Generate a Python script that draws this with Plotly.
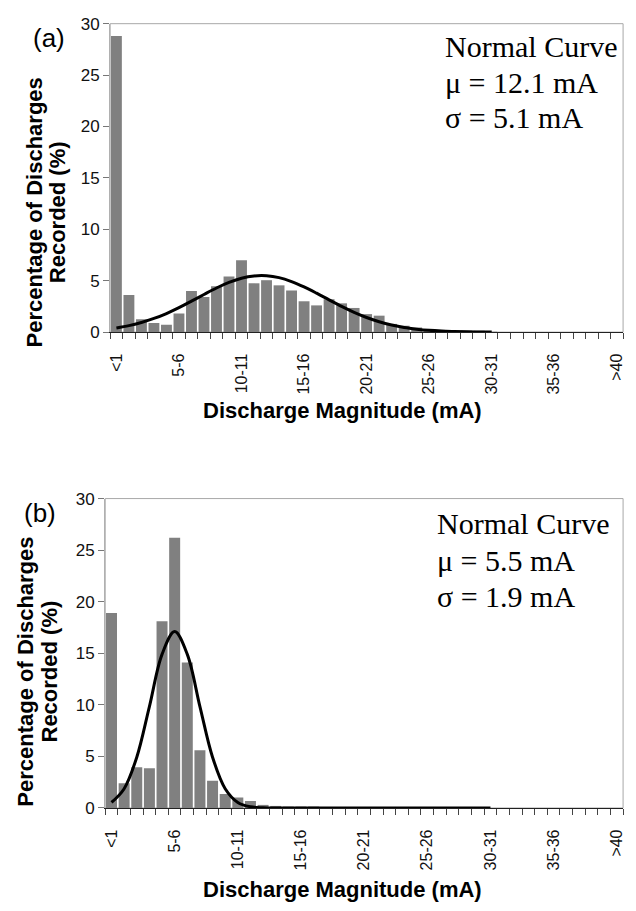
import plotly.graph_objects as go

# ---------------- data ----------------
categories = ["<1"] + [f"{i}-{i+1}" for i in range(1, 40)] + [">40"]
label_idx = [0, 5, 10, 15, 20, 25, 30, 35, 40]
tick_labels = [categories[i] for i in label_idx]

pct_a = [28.8, 3.6, 1.25, 0.88, 0.72, 1.82, 4.0, 3.42, 4.45, 5.4,
         7.0, 4.75, 5.05, 4.55, 4.05, 3.0, 2.6, 3.2, 2.8, 2.35,
         1.75, 1.6, 0.8, 0.62, 0.45, 0.3, 0.2, 0.12, 0.08, 0.05,
         0.03, 0, 0, 0, 0, 0, 0, 0, 0, 0, 0]

pct_b = [18.9, 2.4, 3.95, 3.85, 18.1, 26.2, 14.1, 5.6, 2.65, 1.35,
         1.02, 0.68, 0.3, 0.2, 0.13, 0.08, 0.05, 0, 0, 0,
         0, 0, 0, 0, 0, 0, 0, 0, 0, 0,
         0, 0, 0, 0, 0, 0, 0, 0, 0, 0, 0]

# normal-curve values read at category centres <1 .. 30-31
curve_a = [0.41, 0.63, 0.94, 1.33, 1.81, 2.38, 3.01, 3.66, 4.29, 4.83,
           5.24, 5.46, 5.48, 5.30, 4.92, 4.40, 3.79, 3.14, 2.50, 1.92,
           1.42, 1.01, 0.69, 0.45, 0.29, 0.17, 0.10, 0.06, 0.03, 0.02, 0.01]
curve_b = [0.54, 1.87, 4.92, 9.83, 14.89, 17.1, 14.89, 9.83, 4.92, 1.87,
           0.54, 0.12, 0.02, 0, 0, 0, 0, 0, 0, 0,
           0, 0, 0, 0, 0, 0, 0, 0, 0, 0, 0]

text_a = ["Normal Curve", "μ = 12.1 mA", "σ = 5.1 mA"]
text_b = ["Normal Curve", "μ = 5.5 mA", "σ = 1.9 mA"]

# ---------------- figure ----------------
W, H = 636, 911
def px(x):
    return x / W
def py(y):
    return 1 - y / H

BAR = "#808080"
pos = list(range(len(categories)))

fig = go.Figure()
fig.add_trace(go.Bar(x=pos, y=pct_a, marker=dict(color=BAR, line=dict(width=0)),
                     xaxis="x", yaxis="y", showlegend=False))
fig.add_trace(go.Scatter(x=pos[:len(curve_a)], y=curve_a, mode="lines",
                         line=dict(color="black", width=3, shape="spline"),
                         xaxis="x", yaxis="y", showlegend=False))
fig.add_trace(go.Bar(x=pos, y=pct_b, marker=dict(color=BAR, line=dict(width=0)),
                     xaxis="x2", yaxis="y2", showlegend=False))
fig.add_trace(go.Scatter(x=pos[:len(curve_b)], y=curve_b, mode="lines",
                         line=dict(color="black", width=3, shape="spline"),
                         xaxis="x2", yaxis="y2", showlegend=False))

def xaxis_cfg(domain, anchor):
    return dict(domain=domain, anchor=anchor, range=[-0.5, 40.5],
                tickmode="array", tickvals=label_idx, ticktext=tick_labels,
                tickangle=-90, ticks="", ticklabelstandoff=14,
                tickfont=dict(family="Arial, Liberation Sans", size=16, color="#111"),
                showline=True, linecolor="#222", linewidth=1.2,
                showgrid=False, zeroline=False,
                minor=dict(ticks="outside", tickmode="linear", tick0=-0.5, dtick=1,
                           ticklen=6, tickwidth=1, tickcolor="#444", showgrid=False))

def yaxis_cfg(domain, anchor):
    return dict(domain=domain, anchor=anchor, range=[0, 30], dtick=5,
                ticks="outside", ticklen=6, tickwidth=1, tickcolor="#777",
                tickfont=dict(family="Arial, Liberation Sans", size=17, color="#111"),
                showline=True, linecolor="#b0b0b0", linewidth=1,
                showgrid=False, zeroline=False)

fig.update_layout(
    width=W, height=H, margin=dict(l=0, r=0, t=0, b=0),
    paper_bgcolor="white", plot_bgcolor="white", bargap=0.13,
    xaxis=xaxis_cfg([px(108), px(625)], "y"),
    yaxis=yaxis_cfg([py(330), py(15)], "x"),
    xaxis2=xaxis_cfg([px(103), px(625)], "y2"),
    yaxis2=yaxis_cfg([py(816), py(500)], "x2"),
)

# frames (top / right borders)
for xr, yr in (("x", "y"), ("x2", "y2")):
    fig.add_shape(type="rect", xref=f"{xr} domain", yref=f"{yr} domain",
                  x0=0, x1=1, y0=0, y1=1, line=dict(color="#a8a8a8", width=1),
                  layer="below")

ann = []
bold = dict(family="Arial, Liberation Sans", size=22, color="black")
# axis titles
for yc in (410, 899):
    ann.append(dict(x=px(342), y=py(yc), xref="paper", yref="paper",
                    text="<b>Discharge Magnitude (mA)</b>", showarrow=False,
                    font=bold, xanchor="center", yanchor="middle"))
for (x1, x2, yc) in ((32, 55, 208), (23, 47, 677)):
    ann.append(dict(x=px(x1), y=py(yc), xref="paper", yref="paper",
                    text="<b>Percentage of Discharges</b>", showarrow=False,
                    font=bold, textangle=-90, xanchor="center", yanchor="middle"))
    ann.append(dict(x=px(x2), y=py(yc), xref="paper", yref="paper",
                    text="<b>Recorded (%)</b>", showarrow=False,
                    font=bold, textangle=-90, xanchor="center", yanchor="middle"))
# panel letters
for lab, xc, yc in (("(a)", 46, 30), ("(b)", 37, 515)):
    ann.append(dict(x=px(xc), y=py(yc), xref="paper", yref="paper", text=lab,
                    showarrow=False, xanchor="center", yanchor="middle",
                    font=dict(family="Arial, Liberation Sans", size=26, color="black")))
# normal curve notes
serif = dict(family="Liberation Serif, Times New Roman", size=30, color="black")
for lines, x0, ys in ((text_a, 443, (38, 75, 111)), (text_b, 435, (525, 563, 600))):
    for t, yc in zip(lines, ys):
        ann.append(dict(x=px(x0), y=py(yc), xref="paper", yref="paper", text=t,
                        showarrow=False, xanchor="left", yanchor="middle", font=serif))

fig.update_layout(annotations=ann)
fig.write_html("out.html")
